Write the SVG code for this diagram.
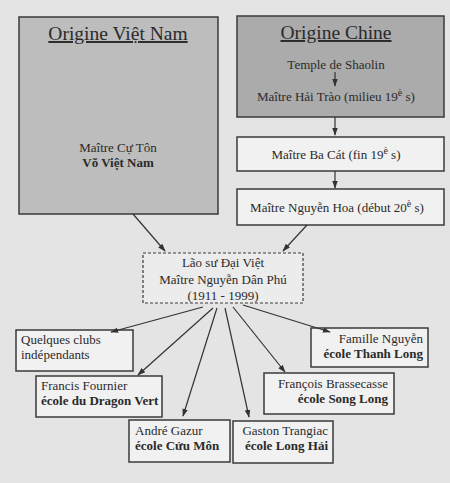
<svg xmlns="http://www.w3.org/2000/svg" width="450" height="483" viewBox="0 0 450 483">
<defs>
<marker id="ah" viewBox="0 0 10 10" refX="9" refY="5" markerWidth="8" markerHeight="8" markerUnits="userSpaceOnUse" orient="auto">
<path d="M0,1.5 L10,5 L0,8.5 Z" fill="#333"/>
</marker>
<style>
text{font-family:"Liberation Serif","Times New Roman",serif;font-size:13px;fill:#2a2a2a}
.t{font-size:19.5px;text-decoration:underline}
.b{font-weight:bold}
.m{text-anchor:middle}
.e{text-anchor:end}
.box{fill:#f1f1f1;stroke:#3a3a3a;stroke-width:1.5}
.sup{font-size:10px}
.c line{stroke:#333;stroke-width:1.2;marker-end:url(#ah)}
</style>
</defs>
<rect width="450" height="483" fill="#e4e4e4"/>
<g id="origine-vn">
<rect x="19" y="17" width="199" height="197" fill="#bdbdbd" stroke="#3a3a3a" stroke-width="1.5"/>
<text class="t m" x="118" y="40">Origine Việt Nam</text>
<text class="m" x="118" y="152">Maître Cự Tôn</text>
<text class="m b" x="118" y="167">Võ Việt Nam</text>
</g>
<g id="origine-chine">
<rect x="237" y="16" width="207" height="101" fill="#ababab" stroke="#3a3a3a" stroke-width="1.5"/>
<text class="t m" x="336" y="39">Origine Chine</text>
<text class="m" x="336" y="69">Temple de Shaolin</text>
<text class="m" x="336" y="101">Maître Hải Trào (milieu 19<tspan class="sup" dy="-5">è</tspan><tspan dy="5"> s)</tspan></text>
</g>
<g id="ba-cat">
<rect class="box" x="237" y="137" width="207" height="34"/>
<text class="m" x="336" y="159">Maître Ba Cát (fin 19<tspan class="sup" dy="-5">è</tspan><tspan dy="5"> s)</tspan></text>
</g>
<g id="nguyen-hoa">
<rect class="box" x="237" y="189" width="207" height="36"/>
<text class="m" x="337" y="212">Maître Nguyễn Hoa (début 20<tspan class="sup" dy="-5">è</tspan><tspan dy="5"> s)</tspan></text>
</g>
<g id="dan-phu">
<rect x="143" y="253" width="160" height="50" fill="#ececec" stroke="#3a3a3a" stroke-width="1.2" stroke-dasharray="3,2"/>
<text class="m" x="223" y="267">Lão sư Đại Việt</text>
<text class="m" x="223" y="284">Maître Nguyễn Dân Phú</text>
<text class="m" x="223" y="300">(1911 - 1999)</text>
</g>
<g id="clubs">
<rect class="box" x="16" y="330" width="117" height="41"/>
<text x="21" y="344">Quelques clubs</text>
<text x="21" y="359">indépendants</text>
</g>
<g id="fournier">
<rect class="box" x="36" y="376" width="126" height="41"/>
<text x="41" y="390">Francis Fournier</text>
<text class="b" x="41" y="405">école du Dragon Vert</text>
</g>
<g id="gazur">
<rect class="box" x="129" y="420" width="101" height="42"/>
<text x="135" y="435">André Gazur</text>
<text class="b" x="135" y="450">école Cửu Môn</text>
</g>
<g id="trangiac">
<rect class="box" x="233" y="421" width="100" height="42"/>
<text class="e" x="328" y="435">Gaston Trangiac</text>
<text class="b e" x="328" y="450">école Long Hải</text>
</g>
<g id="brassecasse">
<rect class="box" x="264" y="373" width="130" height="41"/>
<text class="e" x="388" y="388">François Brassecasse</text>
<text class="b e" x="388" y="403">école Song Long</text>
</g>
<g id="famille-nguyen">
<rect class="box" x="311" y="328" width="117" height="39"/>
<text class="e" x="423" y="343">Famille Nguyễn</text>
<text class="b e" x="423" y="358">école Thanh Long</text>
</g>
<g class="c" id="connectors">
<line x1="335" y1="72" x2="335" y2="86"/>
<line x1="335" y1="117" x2="335" y2="135"/>
<line x1="335" y1="171" x2="335" y2="188"/>
<line x1="133" y1="214" x2="165" y2="251"/>
<line x1="307" y1="225" x2="283" y2="251"/>
<line x1="203" y1="307" x2="111" y2="332"/>
<line x1="213" y1="308" x2="138" y2="375"/>
<line x1="217" y1="308" x2="183" y2="416"/>
<line x1="225" y1="308" x2="249" y2="417"/>
<line x1="233" y1="307" x2="285" y2="372"/>
<line x1="243" y1="305" x2="330" y2="332"/>
</g>
</svg>
